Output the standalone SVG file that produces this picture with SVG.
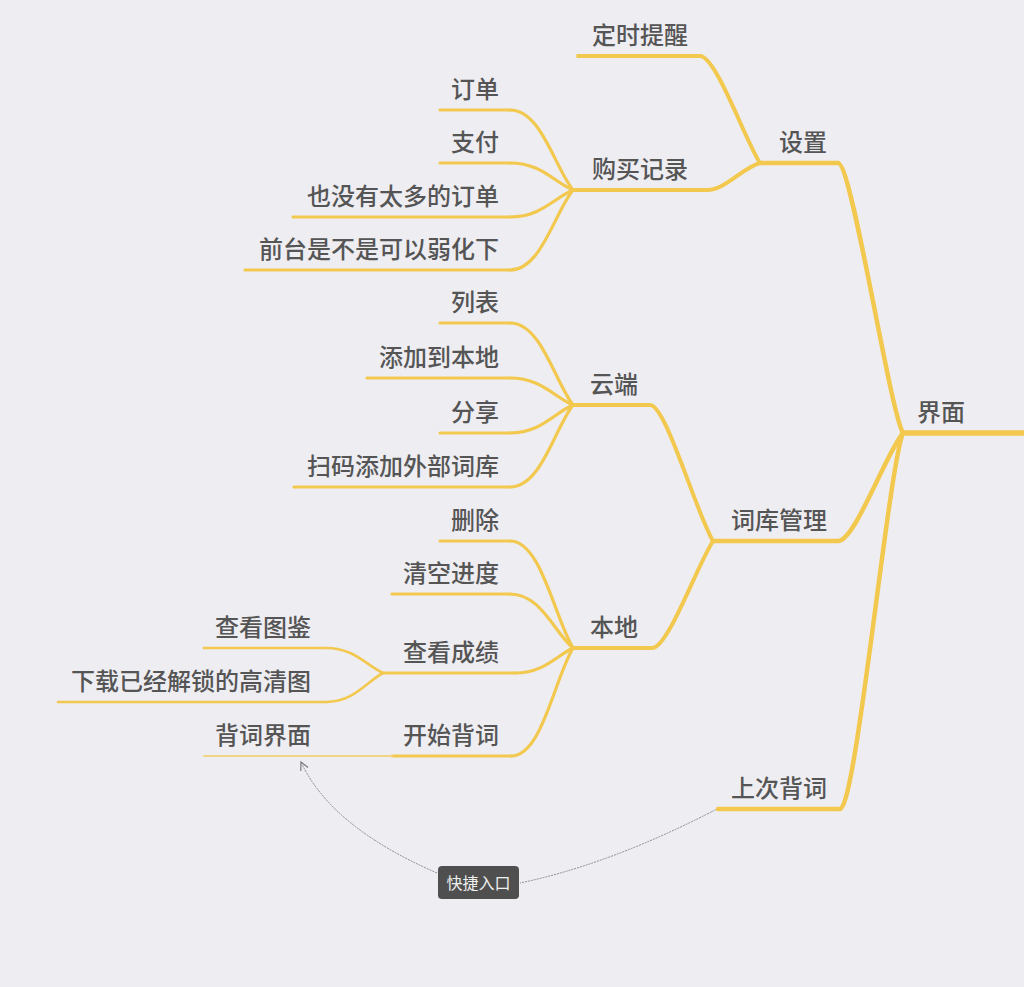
<svg xmlns="http://www.w3.org/2000/svg" width="1024" height="987" viewBox="0 0 1024 987">
<defs>
<style>
.t{font-family:"Noto Sans CJK SC","Noto Sans",sans-serif;font-size:24px;font-weight:500;fill:#555555;}
.e{text-anchor:end;}
.u0{stroke:#F2C94E;stroke-width:5.5;fill:none;stroke-linecap:round;}
.u1{stroke:#F2C94E;stroke-width:4.5;fill:none;stroke-linecap:round;}
.u2{stroke:#F2C94E;stroke-width:4;fill:none;stroke-linecap:round;}
.u3{stroke:#F2C94E;stroke-width:3.2;fill:none;stroke-linecap:round;}
.u4{stroke:#F2C94E;stroke-width:2.6;fill:none;stroke-linecap:round;}
.u5{stroke:#F1D585;stroke-width:2.2;fill:none;stroke-linecap:round;}
.rel{stroke:#8a8a8a;stroke-width:1;fill:none;stroke-dasharray:2 1;}
.tag{font-family:"Noto Sans CJK SC","Noto Sans",sans-serif;font-size:16px;fill:#f0f0f0;text-anchor:middle;}
</style>
<marker id="arr" viewBox="0 0 10 10" refX="9" refY="5" markerWidth="10" markerHeight="10" markerUnits="userSpaceOnUse" orient="auto">
<path d="M1,1 L9,5 L1,9" fill="none" stroke="#7a7a7a" stroke-width="1.2"/>
</marker>
</defs>
<rect width="1024" height="987" fill="#EEEDF2"/>

<g id="connectors">
<path class="u1" d="M838,163 C852,163 889,408 903,433"/>
<path class="u1" d="M838,541 C855,541 885,455 903,433"/>
<path class="u1" d="M840,809 C856,809 888,470 903,433"/>
<path class="u2" d="M700,56 C716,56 745,140 760,163"/>
<path class="u2" d="M707,190 C725,190 742,168 760,163"/>
<path class="u2" d="M650,405 C666,405 695,510 713,541"/>
<path class="u2" d="M652,648 C668,648 695,570 713,541"/>
<path class="u3" d="M510,110 C541,110 554,166 573,190"/>
<path class="u3" d="M510,163 C541,163 554,182 573,190"/>
<path class="u3" d="M510,217 C541,217 554,198 573,190"/>
<path class="u3" d="M510,270 C541,270 554,214 573,190"/>
<path class="u3" d="M510,323 C541,323 554,380 573,405"/>
<path class="u3" d="M510,378 C541,378 554,397 573,405"/>
<path class="u3" d="M510,433 C541,433 554,413 573,405"/>
<path class="u3" d="M510,487 C541,487 554,430 573,405"/>
<path class="u3" d="M510,541 C541,541 554,616 573,648"/>
<path class="u3" d="M510,594 C541,594 554,632 573,648"/>
<path class="u3" d="M515,673 C544,673 556,656 573,648"/>
<path class="u3" d="M511,756 C542,756 554,680 573,648"/>
<path class="u4" d="M326,648 C354,648 366,665 383,673"/>
<path class="u4" d="M326,702 C354,702 366,682 383,673"/>
<path class="rel" d="M717,809 Q611,864 520,883"/>
<path class="rel" d="M437,873 Q331,827 301,762" marker-end="url(#arr)"/>
</g>

<g id="n-root"><path class="u0" d="M903,433 L1024,433"/><text class="t" x="917" y="421">界面</text></g>

<g id="n-shezhi"><path class="u1" d="M760,163 L838,163"/><text class="t e" x="827" y="151">设置</text></g>
<g id="n-ciku"><path class="u1" d="M713,541 L838,541"/><text class="t e" x="827" y="529">词库管理</text></g>
<g id="n-shangci"><path class="u1" d="M718,809 L840,809"/><text class="t e" x="827" y="797">上次背词</text></g>

<g id="n-dingshi"><path class="u2" d="M578,56 L700,56"/><text class="t e" x="688" y="44">定时提醒</text></g>
<g id="n-goumai"><path class="u2" d="M573,190 L707,190"/><text class="t e" x="688" y="178">购买记录</text></g>
<g id="n-yunduan"><path class="u2" d="M573,405 L650,405"/><text class="t e" x="638" y="393">云端</text></g>
<g id="n-bendi"><path class="u2" d="M573,648 L652,648"/><text class="t e" x="638" y="636">本地</text></g>

<g id="n-dingdan"><path class="u3" d="M440,110 L510,110"/><text class="t e" x="499" y="98">订单</text></g>
<g id="n-zhifu"><path class="u3" d="M440,163 L510,163"/><text class="t e" x="499" y="151">支付</text></g>
<g id="n-meiyou"><path class="u3" d="M293,217 L510,217"/><text class="t e" x="499" y="205">也没有太多的订单</text></g>
<g id="n-qiantai"><path class="u3" d="M245,270 L510,270"/><text class="t e" x="499" y="258">前台是不是可以弱化下</text></g>

<g id="n-liebiao"><path class="u3" d="M440,323 L510,323"/><text class="t e" x="499" y="311">列表</text></g>
<g id="n-tianjia"><path class="u3" d="M367,378 L510,378"/><text class="t e" x="499" y="366">添加到本地</text></g>
<g id="n-fenxiang"><path class="u3" d="M440,433 L510,433"/><text class="t e" x="499" y="421">分享</text></g>
<g id="n-saoma"><path class="u3" d="M294,487 L510,487"/><text class="t e" x="499" y="475">扫码添加外部词库</text></g>

<g id="n-shanchu"><path class="u3" d="M440,541 L510,541"/><text class="t e" x="499" y="529">删除</text></g>
<g id="n-qingkong"><path class="u3" d="M392,594 L510,594"/><text class="t e" x="499" y="582">清空进度</text></g>
<g id="n-chengji"><path class="u3" d="M383,673 L515,673"/><text class="t e" x="499" y="661">查看成绩</text></g>
<g id="n-kaishi"><path class="u3" d="M392,756 L511,756"/><text class="t e" x="499" y="744">开始背词</text></g>

<g id="n-tujian"><path class="u4" d="M204,648 L326,648"/><text class="t e" x="311" y="636">查看图鉴</text></g>
<g id="n-xiazai"><path class="u4" d="M58,702 L326,702"/><text class="t e" x="311" y="690">下载已经解锁的高清图</text></g>
<g id="n-jiemian"><path class="u5" d="M204,756 L392,756"/><text class="t e" x="311" y="744">背词界面</text></g>

<g id="n-kuaijie"><rect x="438" y="866" width="81" height="33" rx="4" fill="#4f4f4f"/><text class="tag" x="478.5" y="889">快捷入口</text></g>
</svg>
